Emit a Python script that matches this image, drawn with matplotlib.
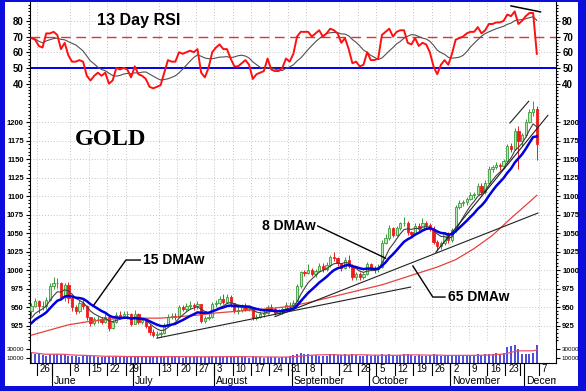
import numpy as np
import pandas as pd
import matplotlib
matplotlib.use('Agg')
import matplotlib.pyplot as plt
from matplotlib.patches import Rectangle

W, H = 586, 391

# trading days on the chart (21 May .. 4 Dec 2009)
holidays = ['2009-05-25', '2009-07-03', '2009-09-07', '2009-11-26']
days = pd.bdate_range('2009-05-21', '2009-12-04')
days = days[~days.isin(pd.to_datetime(holidays))]

# closes of the sessions just before the window (seed for the weighted MAs)
prior_close = [884, 903, 903, 910, 916, 913, 923, 925, 921, 929, 930, 928, 927, 940]
first_open = 945

close = [952, 958, 951, 952, 960, 979,                                        # May
         982, 983, 963, 980, 962, 950, 945, 955, 952, 937, 928, 934, 934, 930,
         936, 922, 930, 939, 938, 940, 940, 927,                              # Jun
         941, 930, 932, 925, 916, 912, 913, 915, 925, 937, 938, 937, 950, 948,
         952, 953, 951, 954, 931, 935, 937, 954,                              # Jul
         955, 961, 957, 963, 955, 945, 946, 950, 948, 949, 935, 937, 940, 942,
         950, 948, 942, 944, 948, 953, 953,                                   # Aug
         956, 978, 997, 996, 1000, 995, 999, 1006, 1001, 1007, 1017, 1016, 1009,
         1003, 1014, 1006, 990, 994, 990, 995, 1008,                          # Sep
         1003, 1001, 1004, 1037, 1043, 1057, 1048, 1057, 1063, 1064, 1051, 1049,
         1060, 1056, 1064, 1061, 1056, 1038, 1032, 1037, 1049, 1040,          # Oct
         1054, 1085, 1090, 1092, 1096, 1102, 1103, 1114, 1106, 1118, 1137, 1139,
         1142, 1141, 1147, 1167, 1164, 1188, 1175, 1182,                      # Nov
         1200, 1214, 1218, 1170]                                              # Dec
high = [956, 962, 960, 958, 964, 982,
        990, 989, 984, 983, 984, 963, 953, 960, 962, 953, 937, 937, 938, 937,
        940, 936, 933, 943, 944, 945, 945, 942,
        946, 942, 935, 934, 927, 920, 917, 918, 928, 940, 942, 942, 953, 953,
        955, 958, 956, 958, 954, 938, 942, 957,
        960, 965, 967, 968, 966, 956, 950, 954, 955, 952, 950, 940, 944, 946,
        953, 954, 950, 947, 950, 957, 957,
        960, 981, 999, 1000, 1008, 1003, 1002, 1010, 1009, 1011, 1020, 1024, 1018,
        1010, 1017, 1020, 1008, 997, 997, 998, 1011,
        1010, 1006, 1008, 1040, 1049, 1061, 1058, 1060, 1065, 1072, 1066, 1053,
        1063, 1064, 1070, 1066, 1063, 1060, 1040, 1039, 1052, 1052,
        1057, 1088, 1094, 1095, 1099, 1105, 1106, 1118, 1117, 1121, 1140, 1142,
        1146, 1145, 1150, 1170, 1172, 1192, 1195, 1185,
        1204, 1218, 1228, 1222]
low = [938, 950, 942, 946, 947, 958,
       975, 976, 960, 958, 955, 945, 940, 942, 948, 932, 925, 926, 929, 927,
       928, 918, 920, 928, 934, 936, 934, 924,
       927, 927, 927, 922, 912, 909, 908, 910, 914, 923, 934, 933, 936, 944,
       945, 948, 946, 948, 928, 929, 932, 935,
       950, 953, 954, 955, 950, 942, 941, 943, 945, 944, 932, 933, 935, 937,
       940, 944, 939, 940, 941, 946, 947,
       950, 954, 976, 992, 994, 992, 990, 997, 998, 999, 1004, 1012, 1006,
       999, 1002, 1003, 986, 987, 987, 988, 993,
       1000, 996, 998, 1003, 1035, 1041, 1045, 1046, 1054, 1060, 1048, 1044,
       1047, 1053, 1054, 1056, 1053, 1035, 1026, 1029, 1034, 1037,
       1038, 1052, 1082, 1086, 1088, 1094, 1098, 1101, 1102, 1103, 1116, 1132,
       1136, 1135, 1138, 1145, 1160, 1162, 1136, 1167,
       1180, 1198, 1208, 1148]

# 65 day weighted average, read every 5 sessions
ma65_idx = list(range(0, 136, 5)) + [137]
ma65 = [912, 919, 926, 930, 933, 935, 935, 935, 937, 939, 942, 944, 946, 948,
        951, 956, 962, 968, 974, 980, 988, 996, 1004, 1014, 1029, 1047, 1070,
        1092, 1101]

rsi = [69, 68, 64, 63, 72, 72, 73, 71, 62, 66, 58, 54, 54, 55, 54, 45, 42, 45,
       47, 45, 47, 40, 42, 50, 49, 50, 49, 44, 51, 46, 45, 43, 38, 37, 38, 39,
       47, 55, 54, 54, 60, 59, 60, 61, 60, 62, 47, 44, 50, 60, 63, 65, 62, 62,
       56, 51, 51, 53, 55, 52, 43, 46, 47, 48, 56, 49, 48, 48, 50, 56, 54, 59,
       70, 73, 73, 73, 70, 72, 74, 70, 72, 75, 74, 72, 66, 69, 62, 53, 54, 51,
       52, 60, 55, 55, 56, 71, 73, 75, 70, 73, 74, 74, 66, 65, 69, 64, 66, 65,
       60, 51, 46, 52, 55, 52, 59, 68, 69, 70, 72, 73, 73, 76, 72, 74, 78, 78,
       79, 79, 80, 84, 83, 86, 78, 80, 83, 85, 85, 59]

volume = [22, 20, 18, 16, 15, 19, 20, 18, 17, 16, 15, 14, 14, 13, 14, 15, 16, 14,
          13, 13, 12, 15, 13, 14, 13, 12, 13, 14,
          14, 12, 13, 12, 14, 13, 12, 13, 15, 14, 12, 13, 12, 11, 12, 13, 12, 15,
          13, 12, 13, 14,
          13, 14, 13, 14, 13, 12, 12, 13, 12, 11, 14, 12, 12, 11, 13, 12, 12, 11,
          12, 13, 14,
          16, 20, 22, 19, 18, 17, 16, 15, 14, 15, 18, 20, 17, 16, 18, 17, 20, 16,
          15, 14, 16,
          15, 16, 14, 18, 17, 19, 16, 15, 17, 18, 19, 16, 15, 17, 14, 15, 16, 18,
          17, 15, 16, 15,
          15, 17, 16, 15, 14, 17, 16, 18, 17, 18, 20, 19, 22, 20, 21, 34, 36, 38,
          30, 20,
          19, 20, 22, 38]

# labels under each week (blank = not printed on the chart)
week_labels = ['26', '', '8', '15', '22', '29', '', '13', '20', '27', '3', '10',
               '17', '24', '31', '8', '', '21', '28', '5', '12', '19', '26', '2',
               '9', '16', '23', '', '7']
month_labels = ['June', 'July', 'August', 'September', 'October', 'November',
                'December']

# hand drawn lines: (idx0, value0, idx1, value1)
price_trends = [(34, 908, 102.8, 977), (66, 937, 137.3, 1077),
                (109.6, 1024, 140, 1209), (129.7, 1198.6, 134.8, 1228)]
rsi_trends = [(130, 89.5, 138, 85.7)]

close = np.array(close, float)
high = np.array(high, float)
low = np.array(low, float)
n = len(close)
x = np.arange(n)
opens = np.r_[first_open, close[:-1]]


def wma(vals, k):
    w = np.arange(1, k + 1)
    return np.array([np.dot(vals[i - k + 1:i + 1], w) / w.sum()
                     for i in range(k - 1, len(vals))])


full = np.r_[prior_close, close]
ma8 = wma(full, 8)[-n:]
ma15 = wma(full, 15)[-n:]
rsi = np.array(rsi, float)
rsi_sig = pd.Series(rsi).rolling(9, min_periods=1).mean().values
volume = np.array(volume, float) * 1000
vol_ma = pd.Series(volume).rolling(10, min_periods=1).mean().values

# week starts and month starts in session index
wk = [i for i in range(1, n) if days[i].isocalendar()[1] != days[i - 1].isocalendar()[1]]
wk.append(n)
mo = [i for i in range(1, n) if days[i].month != days[i - 1].month]

plt.rcParams['font.family'] = ['Liberation Sans', 'DejaVu Sans']

fig = plt.figure(figsize=(W / 100, H / 100), dpi=100)
fig.patch.set_facecolor('#0c0cdc')
fig.patches.append(Rectangle((4.5 / W, 1 - 386 / H), 573 / W, 384 / H,
                             transform=fig.transFigure, facecolor='white',
                             edgecolor='none', zorder=-10))


def px_axes(x0, y0, x1, y1):
    a = fig.add_axes([x0 / W, 1 - y1 / H, (x1 - x0) / W, (y1 - y0) / H])
    a.set_facecolor('none')
    return a


XL = (-0.4, 142.2)
grid_kw = dict(color='#c4c4c4', lw=0.7, ls=(0, (1, 2)), zorder=0)
lbl_idx = [wk[i] for i in range(len(wk)) if week_labels[i]]

# ---------- RSI panel
ar = px_axes(30, 2, 556, 97)
ar.set_xlim(XL)
ar.set_ylim(31.5, 92)
for v in [40, 60, 80]:
    ar.axhline(v, **grid_kw)
for i in lbl_idx:
    ar.axvline(i - 0.5, **grid_kw)
ar.axhline(50, color='#0000e8', lw=1.4, zorder=1)
ar.axhline(70, color='#e83030', lw=1.0, ls=(0, (7, 4)), zorder=1)
ar.plot(x, rsi_sig, color='#505050', lw=0.8, zorder=2)
ar.plot(x, rsi, color='#ff1010', lw=1.4, zorder=3)
for t in rsi_trends:
    ar.plot([t[0], t[2]], [t[1], t[3]], color='black', lw=1.1, clip_on=False)
ar.set_yticks([40, 50, 60, 70, 80])
ar.set_yticks(np.arange(32, 92, 2), minor=True)
ar.set_xticks([])
ar.tick_params(axis='y', which='both', left=True, right=True, labelleft=True,
               labelright=True, labelsize=7, length=3, width=0.8, pad=1.5)
ar.tick_params(axis='y', which='minor', length=1.5)
for s in ['top', 'bottom']:
    ar.spines[s].set_visible(False)
for lb in ar.get_yticklabels():
    lb.set_fontweight('bold')

# ---------- price panel
ap = px_axes(30, 97, 556, 341)
ap.set_xlim(XL)
ap.set_ylim(904.1, 1233.8)
for v in range(925, 1201, 25):
    ap.axhline(v, **grid_kw)
for i in lbl_idx:
    ap.axvline(i - 0.5, **grid_kw)
up = close >= opens
ap.vlines(x, low, high, colors=np.where(up, '#3a9a3a', '#ee1c1c'), lw=0.7, zorder=2)
ap.bar(x[up], (close - opens)[up], bottom=opens[up], width=0.62,
       facecolor='#b6eab0', edgecolor='#3a9a3a', lw=0.6, zorder=3)
ap.bar(x[~up], (opens - close)[~up], bottom=close[~up], width=0.62,
       facecolor='#ee1c1c', edgecolor='#ee1c1c', lw=0.6, zorder=3)
ap.plot(ma65_idx, ma65, color='#e8413c', lw=0.9, zorder=4)
ap.plot(x, ma8, color='#404040', lw=0.8, zorder=4)
ap.plot(x, ma15, color='#0000e0', lw=1.8, zorder=5)
for t in price_trends:
    ap.plot([t[0], t[2]], [t[1], t[3]], color='#202020', lw=0.8, zorder=4)

# labels with leader lines
ap.plot([16.9, 25.6, 29.5], [952.7, 1013.5, 1013.5], color='black', lw=1.0, zorder=6)
ap.text(30.2, 1013.5, '15 DMAw', fontsize=10, fontweight='bold', va='center')
ap.plot([96, 77.6], [1016, 1059.5], color='black', lw=1.0, zorder=6)
ap.text(77.0, 1059.5, '8 DMAw', fontsize=10, fontweight='bold', va='center', ha='right')
ap.plot([103.4, 108.8, 112.1], [1005.4, 963.5, 963.5], color='black', lw=1.0, zorder=6)
ap.text(112.9, 963.5, '65 DMAw', fontsize=10, fontweight='bold', va='center')

ap.set_yticks(range(925, 1201, 25))
ap.set_yticks(range(905, 1231, 5), minor=True)
ap.set_xticks([])
ap.tick_params(axis='y', which='both', left=True, right=True, labelleft=True,
               labelright=True, labelsize=5.5, length=3, width=0.8, pad=1.5)
ap.tick_params(axis='y', which='minor', length=1.5)
for s in ['top', 'bottom']:
    ap.spines[s].set_visible(False)
for lb in ap.get_yticklabels():
    lb.set_fontweight('bold')

# ---------- volume panel
av = px_axes(30, 341, 556, 362.5)
av.set_xlim(XL)
av.set_ylim(0, 47800)
av.vlines(x, 0, volume, color='#1a1ad0', lw=1.1)
av.plot(x, vol_ma, color='#e8506a', lw=0.9)
av.set_yticks([10000, 30000])
av.set_xticks([])
av.tick_params(axis='y', left=True, right=True, labelleft=True, labelright=True,
               labelsize=4.5, length=3, width=0.8, pad=1)
av.spines['top'].set_visible(False)

# ---------- date rows
ad = px_axes(30, 362.5, 556, 386)
ad.set_xlim(XL)
ad.set_ylim(0, 1)
ad.axis('off')
for j, i in enumerate(wk):
    ad.plot([i - 0.5, i - 0.5], [0.47, 1], color='black', lw=0.8)
    if week_labels[j]:
        ad.text(i + 0.3, 0.73, week_labels[j], fontsize=7, va='center', ha='left',
                clip_on=True)
for j, i in enumerate(mo):
    ad.plot([i - 0.5, i - 0.5], [0, 1], color='black', lw=0.8)
    ad.text(i + 0.1, 0.2, month_labels[j], fontsize=7.5, va='center', ha='left',
            clip_on=True)

fig.text(139 / W, 1 - 20.5 / H, '13 Day RSI', fontsize=11.5, fontweight='bold',
         ha='center', va='center')
fig.text(111 / W, 1 - 140 / H, 'GOLD', fontsize=17.5, fontweight='bold',
         family='Liberation Serif', ha='center', va='center')

fig.savefig('out.png', dpi=100, facecolor=fig.get_facecolor())
